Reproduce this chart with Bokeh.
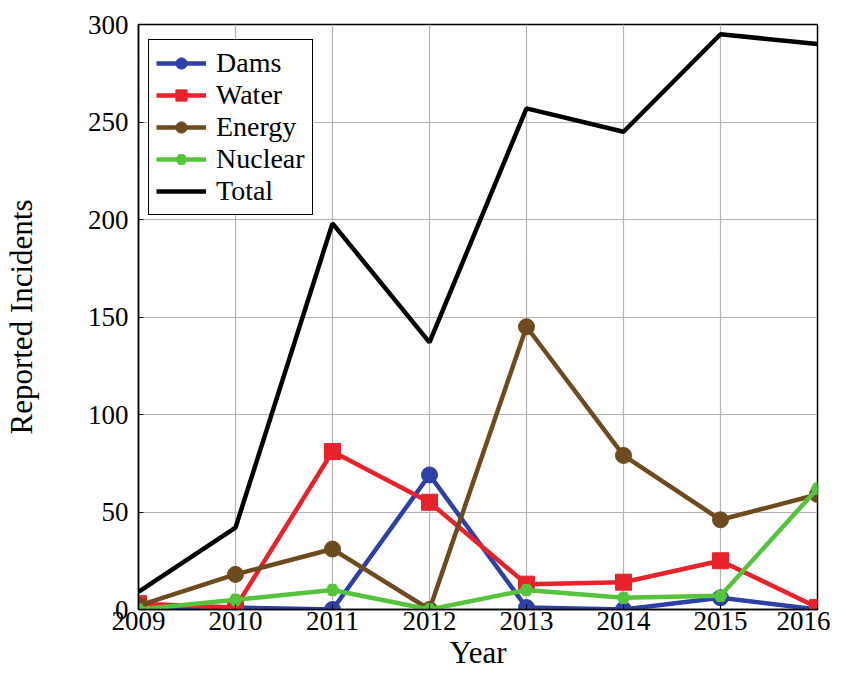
from bokeh.plotting import figure
from bokeh.models import Range1d, FixedTicker, Legend, LegendItem
from bokeh.embed import file_html
from bokeh.resources import INLINE

years = [2009, 2010, 2011, 2012, 2013, 2014, 2015, 2016]
dams = [0, 1, 0, 69, 1, 0, 6, 0]
water = [3, 1, 81, 55, 13, 14, 25, 1]
energy = [2, 18, 31, 0, 145, 79, 46, 59]
nuclear = [0, 5, 10, 0, 10, 6, 7, 62]
total = [9, 42, 198, 137, 257, 245, 295, 290]
y_ticks = [0, 50, 100, 150, 200, 250, 300]

FONT = "Liberation Serif"

p = figure(width=830, height=676, output_backend="svg", toolbar_location=None,
           x_range=Range1d(2009, 2016), y_range=Range1d(0, 300),
           min_border_left=137, min_border_right=13, min_border_top=24, min_border_bottom=67)

p.outline_line_color = "black"
p.outline_line_width = 1.5
p.xaxis.ticker = FixedTicker(ticks=years)
p.yaxis.ticker = FixedTicker(ticks=y_ticks)
for ax in (p.xaxis, p.yaxis):
    ax.major_label_text_font = FONT
    ax.major_label_text_font_size = "27px"
    ax.axis_label_text_font = FONT
    ax.axis_label_text_font_size = "31px"
    ax.axis_label_text_font_style = "normal"
    ax.axis_label_text_color = "black"
    ax.major_tick_in = 5
    ax.major_tick_out = 0
    ax.minor_tick_in = 0
    ax.minor_tick_out = 0
    ax.axis_line_color = "black"
    ax.axis_line_width = 1.5
    ax.major_label_text_color = "black"
p.xaxis.axis_label = "Year"
p.yaxis.axis_label = "Reported Incidents"
p.xaxis.major_label_standoff = 2
p.yaxis.major_label_standoff = 10
p.xaxis.axis_label_standoff = 2
p.yaxis.axis_label_standoff = 46

p.xgrid.grid_line_color = "#b4b4b4"
p.ygrid.grid_line_color = "#b4b4b4"
p.xgrid.grid_line_width = 1.2
p.ygrid.grid_line_width = 1.2

LW = 4.5
cd = "#2e40a8"
cw = "#e8222b"
ce = "#6e4a1f"
cn = "#55c43c"

l1 = p.line(years, dams, line_color=cd, line_width=LW)
m1 = p.scatter(years, dams, marker="circle", size=16, fill_color=cd, line_color=cd)
l2 = p.line(years, water, line_color=cw, line_width=LW)
m2 = p.scatter(years, water, marker="square", size=16, fill_color=cw, line_color=cw)
l3 = p.line(years, energy, line_color=ce, line_width=LW)
m3 = p.scatter(years, energy, marker="circle", size=16, fill_color=ce, line_color=ce)
l4 = p.line(years, nuclear, line_color=cn, line_width=LW)
m4 = p.scatter(years, nuclear, marker="hex", size=13, fill_color=cn, line_color=cn)
l5 = p.line(years, total, line_color="black", line_width=LW)

legend = Legend(items=[
    LegendItem(label="Dams", renderers=[l1, m1]),
    LegendItem(label="Water", renderers=[l2, m2]),
    LegendItem(label="Energy", renderers=[l3, m3]),
    LegendItem(label="Nuclear", renderers=[l4, m4]),
    LegendItem(label="Total", renderers=[l5]),
], location=(10, 394))
legend.label_text_font = FONT
legend.label_text_font_size = "28px"
legend.label_text_color = "black"
legend.glyph_width = 50
legend.glyph_height = 28
legend.label_height = 28
legend.label_standoff = 10
legend.spacing = 0
legend.padding = 7
legend.margin = 0
legend.border_line_color = "black"
legend.border_line_width = 1.5
legend.border_line_alpha = 1
legend.background_fill_alpha = 1
p.add_layout(legend, "center")

open("out.html", "w").write(file_html(p, INLINE))
